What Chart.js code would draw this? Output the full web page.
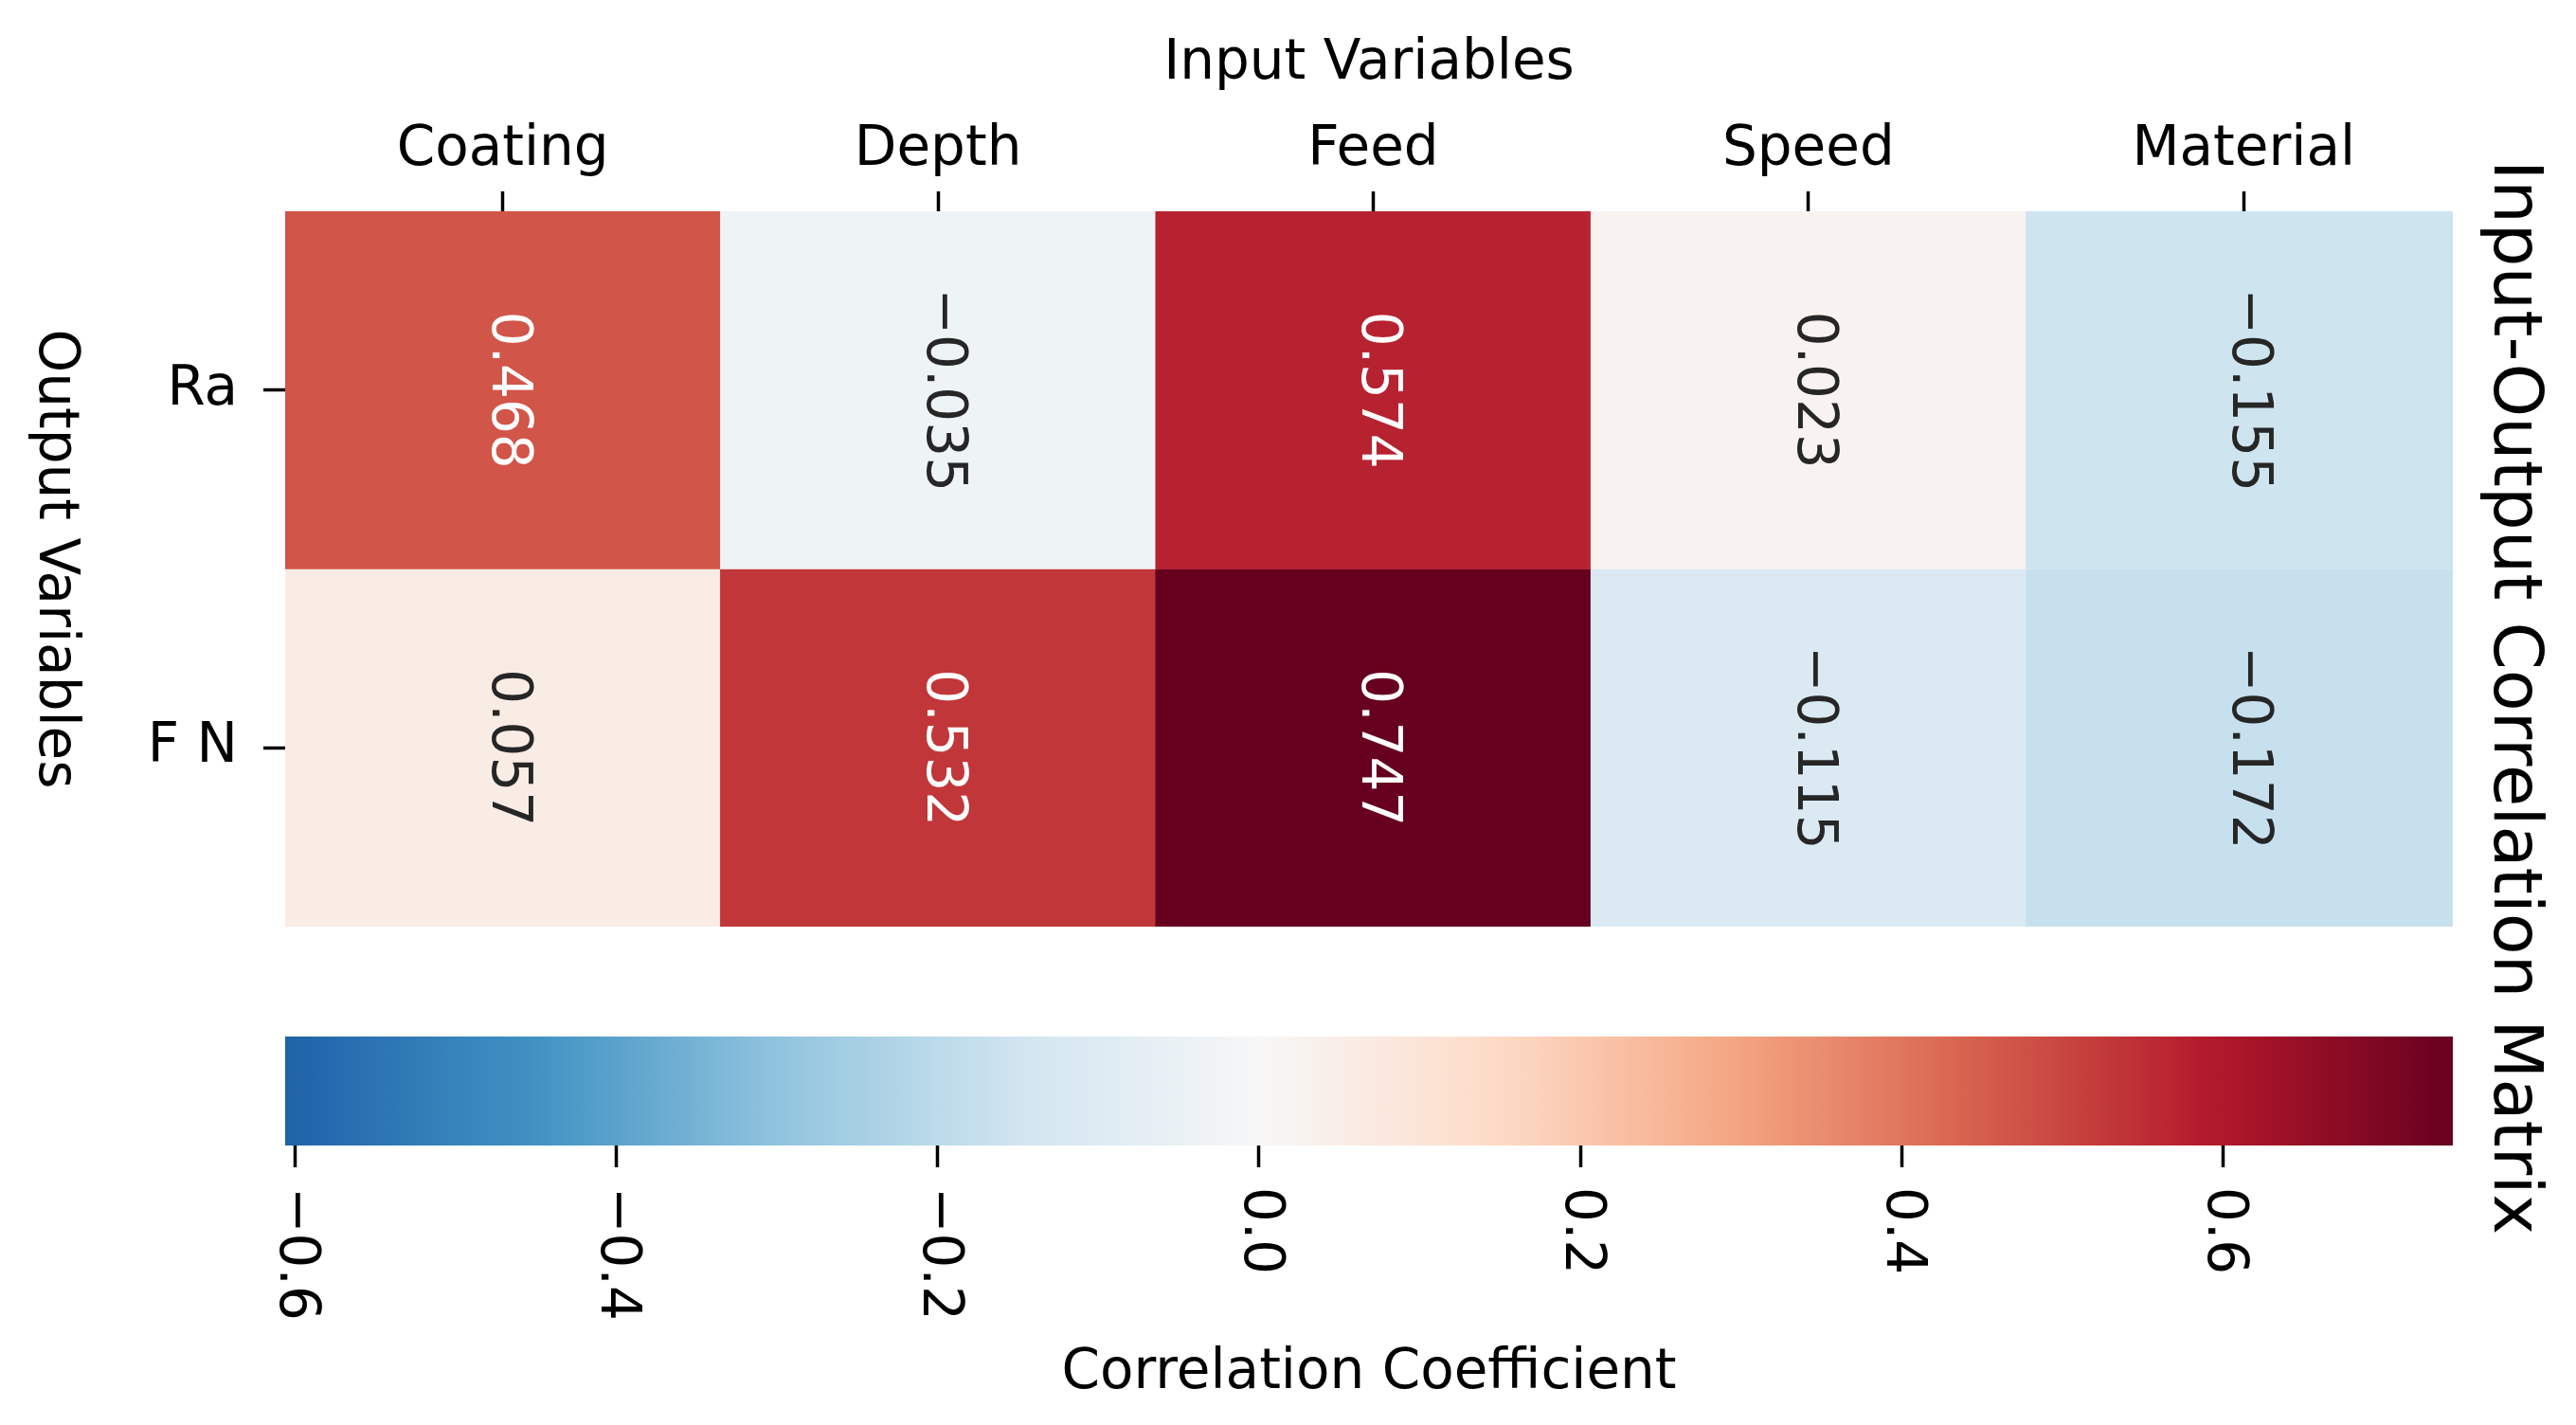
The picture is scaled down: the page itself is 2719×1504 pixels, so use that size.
<!DOCTYPE html>
<html>
<head>
<meta charset="utf-8">
<script src="https://cdn.jsdelivr.net/npm/chart.js@4.4.1/dist/chart.umd.min.js"></script>
<style>
  html, body { margin: 0; padding: 0; background: #fff; }
  canvas { position: absolute; left: 0; top: 0; }
</style>
</head>
<body>
<canvas id="heatmap" width="2719" height="1504"></canvas>
<canvas id="colorbar" width="2719" height="1504"></canvas>
<script>
// datos de la matriz
const inputs = ['Coating', 'Depth', 'Feed', 'Speed', 'Material'];
const outputs = ['Ra', 'F N'];
const raValues = [0.468, -0.035, 0.574, 0.023, -0.155];
const fnValues = [0.057, 0.532, 0.747, -0.115, -0.172];
const cbTicks = [-0.6, -0.4, -0.2, 0.0, 0.2, 0.4, 0.6];
const cbMin = -0.606;
const cbMax = 0.743;

const rows = [raValues, fnValues];
const FONT = '"DejaVu Sans", sans-serif';

// RdBu_r (colores de matplotlib)
const rdbu = ['#053061', '#2166ac', '#4393c3', '#92c5de', '#d1e5f0', '#f7f7f7',
              '#fddbc7', '#f4a582', '#d6604d', '#b2182b', '#67001f'];

function hexToRgb(h) {
    return [parseInt(h.slice(1, 3), 16), parseInt(h.slice(3, 5), 16), parseInt(h.slice(5, 7), 16)];
}

function cmapRgb(v) {
    const vr = Math.max(cbMax, -cbMin);
    let t = (v + vr) / (2 * vr);
    t = Math.min(1, Math.max(0, t));
    const p = t * 10;
    const i = Math.min(9, Math.floor(p));
    const f = p - i;
    const a = hexToRgb(rdbu[i]), b = hexToRgb(rdbu[i + 1]);
    return a.map((c, k) => Math.round(c + (b[k] - c) * f));
}

function cmap(v) {
    const c = cmapRgb(v);
    return `rgb(${c[0]},${c[1]},${c[2]})`;
}

// texto blanco u oscuro segun luminancia (como seaborn)
function textColor(v) {
    const lin = cmapRgb(v).map(c => {
        c = c / 255;
        return c <= 0.03928 ? c / 12.92 : Math.pow((c + 0.055) / 1.055, 2.4);
    });
    const lum = 0.2126 * lin[0] + 0.7152 * lin[1] + 0.0722 * lin[2];
    return lum > 0.408 ? '#262626' : '#ffffff';
}

function fmt(v, d) {
    const s = Math.abs(v).toFixed(d);
    return v < 0 ? '\u2212' + s : s;
}

function rotText(ctx, text, x, y, size, color, align, baseline) {
    ctx.save();
    ctx.translate(x, y);
    ctx.rotate(Math.PI / 2);
    ctx.font = `${size}px ${FONT}`;
    ctx.fillStyle = color;
    ctx.textAlign = align;
    ctx.textBaseline = baseline;
    ctx.fillText(text, 0, 0);
    ctx.restore();
}

// anotaciones y titulos del mapa de calor
const heatmapText = {
    id: 'heatmapText',
    afterDraw(chart) {
        const ctx = chart.ctx;
        const xs = chart.scales.x, ys = chart.scales.y;
        rows.forEach((vals, r) => {
            vals.forEach((v, c) => {
                const x = xs.getPixelForValue(c) + 4;
                const y = ys.getPixelForValue(r + 0.5);
                rotText(ctx, fmt(v, 3), x, y, 58, textColor(v), 'center', 'middle');
            });
        });

        ctx.save();
        ctx.font = `58px ${FONT}`;
        ctx.fillStyle = '#000';
        ctx.textAlign = 'center';
        ctx.textBaseline = 'alphabetic';
        ctx.fillText('Input Variables', 1445, 83);
        ctx.restore();

        rotText(ctx, 'Output Variables', 42, 590, 58, '#000', 'center', 'alphabetic');
        rotText(ctx, 'Input-Output Correlation Matrix', 2633, 736, 72, '#000', 'center', 'alphabetic');
    }
};

new Chart(document.getElementById('heatmap').getContext('2d'), {
    type: 'bar',
    data: {
        labels: inputs,
        datasets: outputs.map((name, r) => ({
            label: name,
            data: rows[r].map(() => [r, r + 1]),
            backgroundColor: rows[r].map(cmap),
            borderWidth: 0,
            borderSkipped: false,
            barPercentage: 1,
            categoryPercentage: 1,
            grouped: false,
            // la ultima columna queda recortada en el borde de la barra de color
            clip: { left: 0, top: 0, right: -9, bottom: 0 }
        }))
    },
    options: {
        responsive: false,
        devicePixelRatio: 1,
        animation: false,
        events: [],
        layout: { padding: { top: 0, left: 0, right: 121, bottom: 526 } },
        plugins: { legend: { display: false }, tooltip: { enabled: false } },
        scales: {
            x: {
                type: 'category',
                position: 'top',
                offset: true,
                grid: { offset: false, drawOnChartArea: false, drawTicks: true, tickLength: 21, tickWidth: 3.5, tickColor: '#000' },
                border: { display: false },
                ticks: { font: { family: FONT, size: 58 }, color: '#000', padding: 8, minRotation: 0, maxRotation: 0, autoSkip: false },
                afterFit(scale) { scale.height = 223; }
            },
            y: {
                type: 'linear',
                min: 0,
                max: 2,
                reverse: true,
                afterBuildTicks(scale) { scale.ticks = outputs.map((_, i) => ({ value: i + 0.5 })); },
                grid: { drawOnChartArea: false, drawTicks: true, tickLength: 23, tickWidth: 3.5, tickColor: '#000' },
                border: { display: false },
                ticks: {
                    font: { family: FONT, size: 58 }, color: '#000', padding: 27,
                    callback: (v) => outputs[Math.floor(v)]
                },
                afterFit(scale) { scale.width = 301; }
            }
        }
    },
    plugins: [heatmapText]
});

// barra de color
let cbGradient = null;
function gradientFill(context) {
    const chart = context.chart;
    if (!chart.chartArea) return '#f7f7f7';
    const xs = chart.scales.x;
    const x0 = xs.getPixelForValue(cbMin), x1 = xs.getPixelForValue(cbMax);
    if (!cbGradient) {
        cbGradient = chart.ctx.createLinearGradient(x0, 0, x1, 0);
        const n = 60;
        for (let i = 0; i <= n; i++) {
            const v = cbMin + (cbMax - cbMin) * i / n;
            cbGradient.addColorStop(i / n, cmap(v));
        }
    }
    return cbGradient;
}

const colorbarText = {
    id: 'colorbarText',
    afterDraw(chart) {
        const ctx = chart.ctx;
        const xs = chart.scales.x;
        cbTicks.forEach(v => {
            rotText(ctx, fmt(v, 1), xs.getPixelForValue(v), chart.chartArea.bottom + 44, 58, '#000', 'left', 'middle');
        });
        ctx.save();
        ctx.font = `58px ${FONT}`;
        ctx.fillStyle = '#000';
        ctx.textAlign = 'center';
        ctx.textBaseline = 'alphabetic';
        ctx.fillText('Correlation Coefficient', (chart.chartArea.left + chart.chartArea.right) / 2, 1465);
        ctx.restore();
    }
};

new Chart(document.getElementById('colorbar').getContext('2d'), {
    type: 'bar',
    data: {
        labels: ['cb'],
        datasets: [{
            data: [[cbMin, cbMax]],
            backgroundColor: gradientFill,
            borderWidth: 0,
            borderSkipped: false,
            barPercentage: 1,
            categoryPercentage: 1
        }]
    },
    options: {
        indexAxis: 'y',
        responsive: false,
        devicePixelRatio: 1,
        animation: false,
        events: [],
        layout: { padding: { top: 1094, left: 301, right: 130, bottom: 0 } },
        plugins: { legend: { display: false }, tooltip: { enabled: false } },
        scales: {
            x: {
                type: 'linear',
                position: 'bottom',
                min: cbMin,
                max: cbMax,
                afterBuildTicks(scale) { scale.ticks = cbTicks.map(v => ({ value: v })); },
                grid: { drawOnChartArea: false, drawTicks: true, tickLength: 23, tickWidth: 3.5, tickColor: '#000' },
                border: { display: false },
                ticks: { color: 'rgba(0,0,0,0)', font: { family: FONT, size: 58 } },
                afterFit(scale) { scale.height = 295; }
            },
            y: { display: false }
        }
    },
    plugins: [colorbarText]
});
</script>
</body>
</html>
